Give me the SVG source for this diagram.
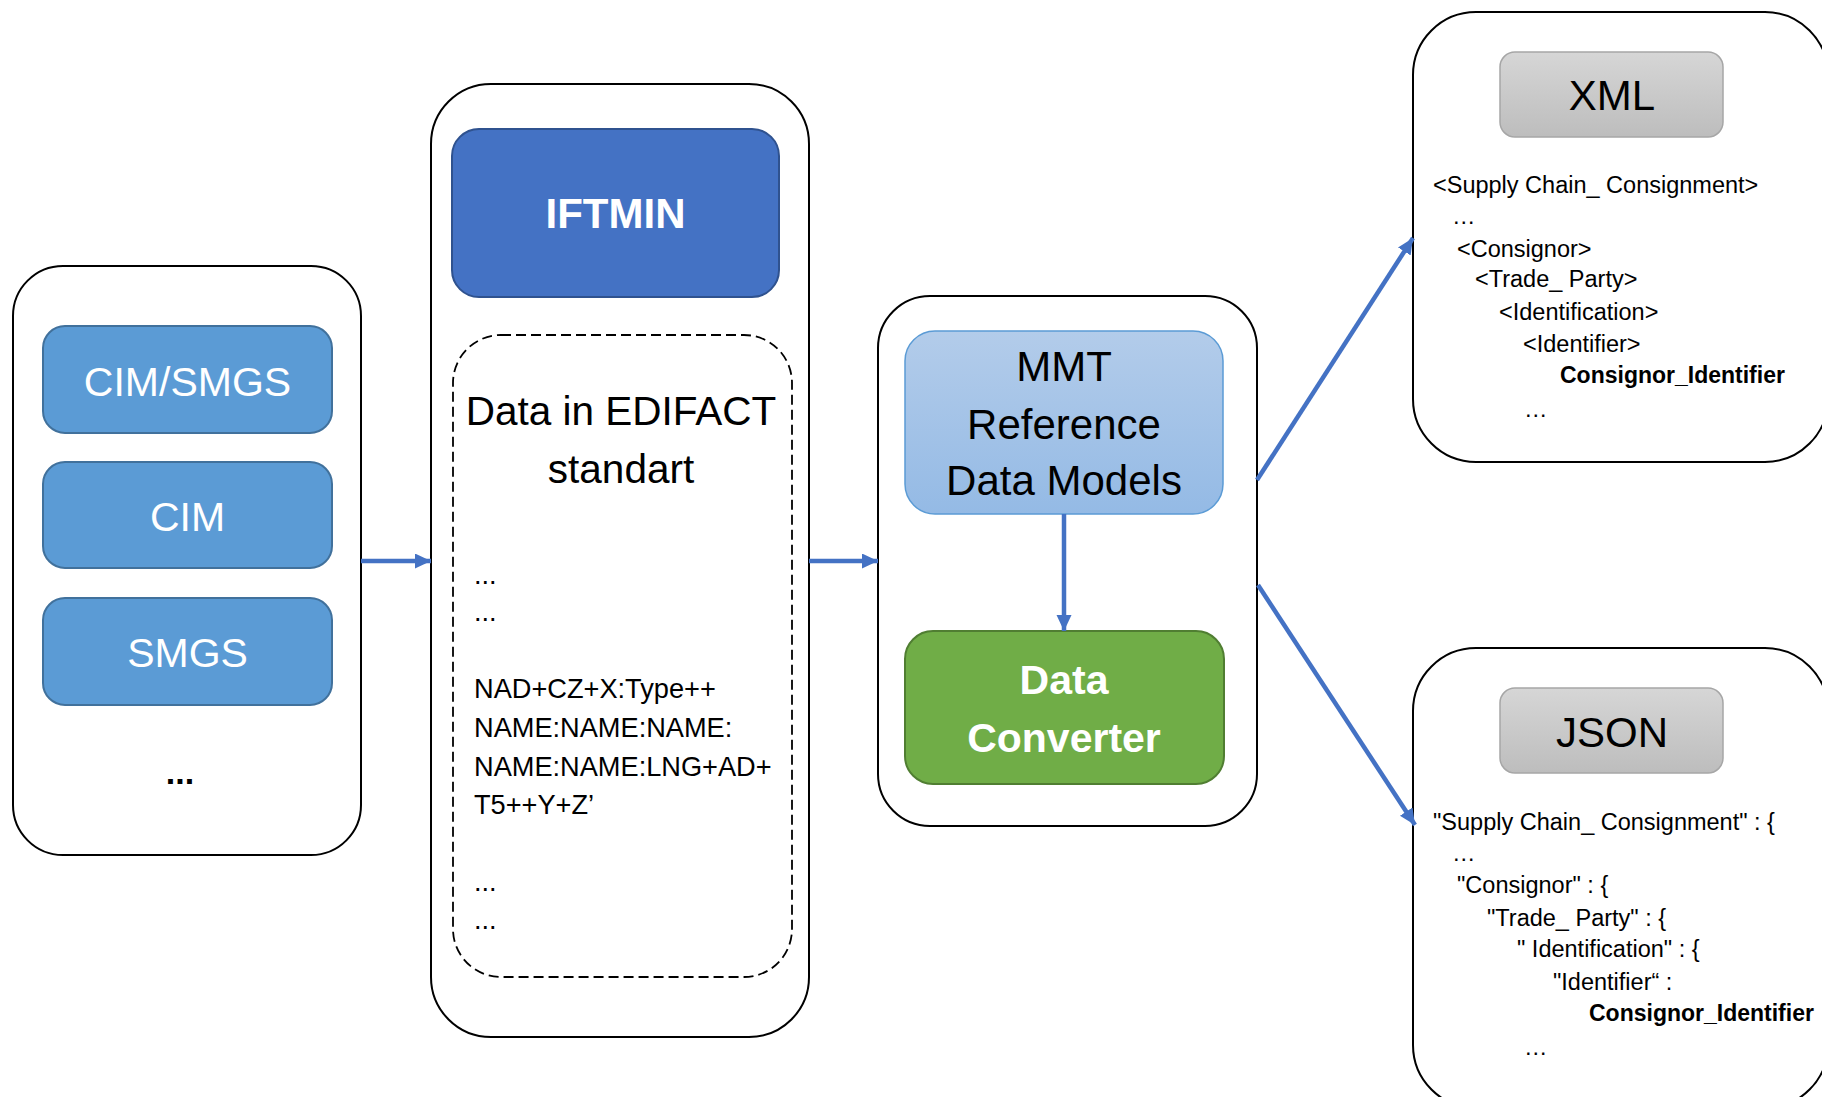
<svg xmlns="http://www.w3.org/2000/svg" width="1822" height="1097" viewBox="0 0 1822 1097">
<defs>
<style>
.cont{fill:#fff;stroke:#000;stroke-width:2}
.t{font-family:"Liberation Sans",Arial,sans-serif}
.w{fill:#fff}
.k{fill:#000}
.b{font-weight:bold}
.mid{text-anchor:middle}
.blue{fill:#5B9BD5;stroke:#41719C;stroke-width:2}
.gray{fill:url(#gg);stroke:#A6A6A6;stroke-width:1.5}
.conn{stroke:#4472C4;stroke-width:4.5;fill:none;marker-end:url(#ah)}
</style>
<linearGradient id="gg" x1="0" y1="0" x2="0" y2="1">
<stop offset="0" stop-color="#D6D6D6"/>
<stop offset="1" stop-color="#BDBDBD"/>
</linearGradient>
<linearGradient id="bg" x1="0" y1="0" x2="0" y2="1">
<stop offset="0" stop-color="#B3CCEA"/>
<stop offset="1" stop-color="#94BAE5"/>
</linearGradient>
<marker id="ah" markerUnits="userSpaceOnUse" markerWidth="17" markerHeight="16" refX="16" refY="7.5" orient="auto">
<path d="M0,0 L16,7.5 L0,15 z" fill="#4472C4"/>
</marker>
</defs>
<rect width="1822" height="1097" fill="#fff"/>

<g id="sources">
<rect class="cont" x="13" y="266" width="348" height="589" rx="50"/>
<g id="cim-smgs"><rect class="blue" x="43" y="326" width="289" height="107" rx="22"/>
<text class="t w mid" x="187.5" y="396" font-size="41">CIM/SMGS</text></g>
<g id="cim"><rect class="blue" x="43" y="462" width="289" height="106" rx="22"/>
<text class="t w mid" x="187.5" y="531" font-size="41">CIM</text></g>
<g id="smgs"><rect class="blue" x="43" y="598" width="289" height="107" rx="22"/>
<text class="t w mid" x="187.5" y="667" font-size="41">SMGS</text></g>
<text class="t k b mid" x="180" y="784" font-size="34">...</text>
</g>

<g id="iftmin-container">
<rect class="cont" x="431" y="84" width="378" height="953" rx="60"/>
<g id="iftmin"><rect x="452" y="129" width="327" height="168" rx="27" fill="#4472C4" stroke="#2F528F" stroke-width="2"/>
<text class="t w b mid" x="615.5" y="228" font-size="42">IFTMIN</text></g>
<g id="edifact">
<rect x="453" y="335" width="339" height="642" rx="48" fill="none" stroke="#000" stroke-width="1.8" stroke-dasharray="10 5"/>
<text class="t k mid" x="621" y="425" font-size="40.5">Data in EDIFACT</text>
<text class="t k mid" x="621" y="483" font-size="40.5">standart</text>
<g class="t k" font-size="27.2">
<text x="474" y="584">...</text>
<text x="474" y="621">...</text>
<text x="474" y="698">NAD+CZ+X:Type++</text>
<text x="474" y="737">NAME:NAME:NAME:</text>
<text x="474" y="776">NAME:NAME:LNG+AD+</text>
<text x="474" y="814">T5++Y+Z’</text>
<text x="474" y="891">...</text>
<text x="474" y="929">...</text>
</g>
</g>
</g>

<g id="mmt-container">
<rect class="cont" x="878" y="296" width="379" height="530" rx="52"/>
<g id="mmt"><rect x="905" y="331" width="318" height="183" rx="30" fill="url(#bg)" stroke="#5B9BD5" stroke-width="1.5"/>
<text class="t k mid" x="1064" y="381" font-size="42">MMT</text>
<text class="t k mid" x="1064" y="439" font-size="42">Reference</text>
<text class="t k mid" x="1064" y="495" font-size="42">Data Models</text></g>
<g id="converter"><rect x="905" y="631" width="319" height="153" rx="28" fill="#70AD47" stroke="#507E32" stroke-width="2"/>
<text class="t w b mid" x="1064" y="694" font-size="41">Data</text>
<text class="t w b mid" x="1064" y="752" font-size="41">Converter</text></g>
</g>

<g id="xml">
<rect class="cont" x="1413" y="12" width="415" height="450" rx="63"/>
<rect class="gray" x="1500" y="52" width="223" height="85" rx="15"/>
<text class="t k mid" x="1612" y="110" font-size="42">XML</text>
<g class="t k" font-size="23.5">
<text x="1433" y="193">&lt;Supply Chain_ Consignment&gt;</text>
<text x="1452" y="224">…</text>
<text x="1457" y="257">&lt;Consignor&gt;</text>
<text x="1475" y="287">&lt;Trade_ Party&gt;</text>
<text x="1499" y="320">&lt;Identification&gt;</text>
<text x="1523" y="352">&lt;Identifier&gt;</text>
<text x="1560" y="383" class="b" font-size="23">Consignor_Identifier</text>
<text x="1524" y="417">…</text>
</g>
</g>

<g id="json">
<rect class="cont" x="1413" y="648" width="415" height="460" rx="63"/>
<rect class="gray" x="1500" y="688" width="223" height="85" rx="15"/>
<text class="t k mid" x="1612" y="747" font-size="42">JSON</text>
<g class="t k" font-size="23.5">
<text x="1433" y="830">"Supply Chain_ Consignment" : {</text>
<text x="1452" y="861">…</text>
<text x="1457" y="893">"Consignor" : {</text>
<text x="1487" y="926">"Trade_ Party" : {</text>
<text x="1517" y="957">" Identification" : {</text>
<text x="1553" y="990">"Identifier“ :</text>
<text x="1589" y="1021" class="b" font-size="23">Consignor_Identifier</text>
<text x="1524" y="1055">…</text>
</g>
</g>

<g id="connectors">
<line class="conn" x1="361" y1="561" x2="431" y2="561"/>
<line class="conn" x1="809" y1="561" x2="878" y2="561"/>
<line class="conn" x1="1064" y1="514" x2="1064" y2="631"/>
<line class="conn" x1="1257" y1="480" x2="1413" y2="238"/>
<line class="conn" x1="1258" y1="585" x2="1415" y2="825"/>
</g>
</svg>
